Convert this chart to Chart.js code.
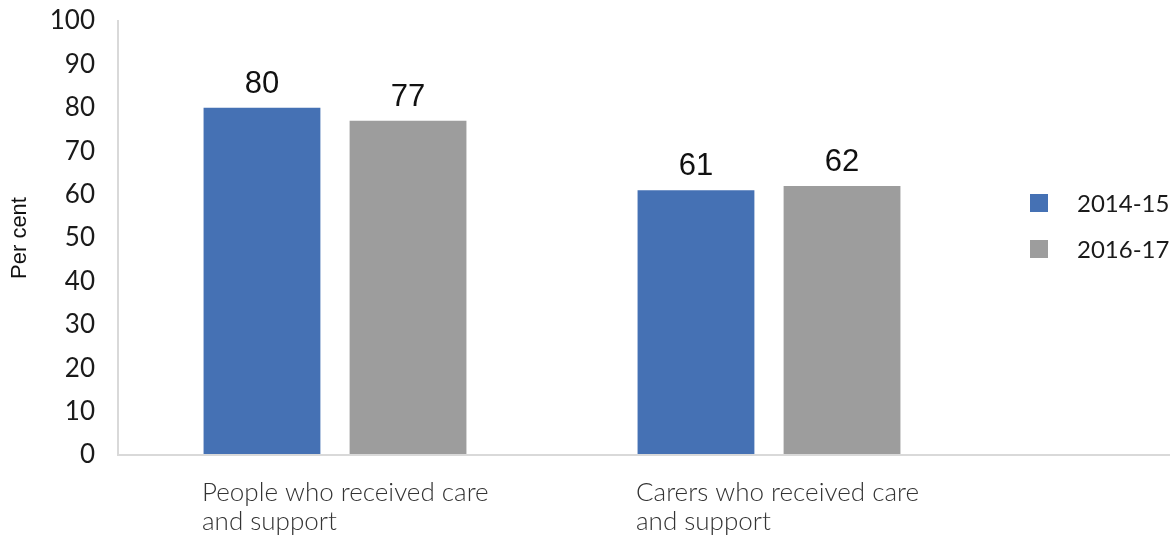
<!DOCTYPE html>
<html>
<head>
<meta charset="utf-8">
<script src="https://cdn.jsdelivr.net/npm/chart.js@4/dist/chart.umd.min.js"></script>
<style>
  html, body { margin: 0; padding: 0; background: #ffffff; }
  #wrap { width: 1170px; height: 539px; }
</style>
</head>
<body>
<div id="wrap"><canvas id="chart" width="1170" height="539"></canvas></div>
<script>
// Survey results: share who received care and support, by period
const categories = [
  ["People who received care", "and support"],
  ["Carers who received care", "and support"]
];
const seriesNames = ["2014-15", "2016-17"];
const values2014 = [80, 61];
const values2016 = [77, 62];
const seriesColors = ["#4571b4", "#9d9d9d"];
const yMin = 0;
const yMax = 100;
const yStep = 10;
const yTitle = "Per cent";

// value labels above each bar, placed from the bar elements themselves
const valueLabels = {
  id: 'valueLabels',
  afterDatasetsDraw(chart) {
    const ctx = chart.ctx;
    ctx.save();
    ctx.font = '31px "Liberation Sans", Arial, sans-serif';
    ctx.fillStyle = '#111111';
    ctx.textAlign = 'center';
    ctx.textBaseline = 'alphabetic';
    chart.data.datasets.forEach((ds, di) => {
      chart.getDatasetMeta(di).data.forEach((bar, i) => {
        ctx.fillText(String(ds.data[i]), bar.x, bar.y - 15);
      });
    });
    ctx.restore();
  }
};

// extend the category baseline to the right edge and draw the legend
const sideLegend = {
  id: 'sideLegend',
  afterDraw(chart) {
    const ctx = chart.ctx;
    const xs = chart.scales.x;
    ctx.save();
    ctx.strokeStyle = '#d9d9d9';
    ctx.lineWidth = 2;
    ctx.beginPath();
    ctx.moveTo(chart.chartArea.left, xs.top);
    ctx.lineTo(chart.width, xs.top);
    ctx.stroke();

    ctx.font = '24px Lato, "Open Sans", sans-serif';
    ctx.textAlign = 'left';
    ctx.textBaseline = 'middle';
    const boxX = 1030, textX = 1077, firstY = 203, rowGap = 46, box = 18;
    chart.data.datasets.forEach((ds, i) => {
      const cy = firstY + i * rowGap;
      ctx.fillStyle = ds.backgroundColor;
      ctx.fillRect(boxX, cy - box / 2, box, box);
      ctx.fillStyle = '#1a1a1a';
      ctx.fillText(ds.label, textX, cy + 1);
    });
    ctx.restore();
  }
};

new Chart(document.getElementById('chart'), {
  type: 'bar',
  data: {
    labels: categories,
    datasets: [
      { label: seriesNames[0], data: values2014, backgroundColor: seriesColors[0] },
      { label: seriesNames[1], data: values2016, backgroundColor: seriesColors[1] }
    ]
  },
  options: {
    responsive: false,
    devicePixelRatio: 1,
    animation: false,
    categoryPercentage: 0.673,
    barPercentage: 0.8,
    layout: { padding: { top: 21, right: 184, left: 0, bottom: 0 } },
    plugins: {
      legend: { display: false },
      tooltip: { enabled: false }
    },
    scales: {
      x: {
        grid: { display: false, drawTicks: false },
        border: { display: false },
        ticks: {
          align: 'start',
          labelOffset: -133,
          padding: 24,
          color: '#333333',
          font: { family: 'Lato', weight: '300', size: 26, lineHeight: 1.08 }
        },
        afterFit(scale) { scale.height = 84; }
      },
      y: {
        min: yMin,
        max: yMax,
        grid: { display: false, drawTicks: false },
        border: { display: true, color: '#d9d9d9', width: 2 },
        ticks: {
          stepSize: yStep,
          padding: 23,
          color: '#1a1a1a',
          font: { family: 'Lato', size: 26 }
        },
        title: {
          display: true,
          text: yTitle,
          color: '#111111',
          padding: { top: 7, bottom: 0 },
          font: { family: '"Liberation Sans", Arial, sans-serif', size: 22 }
        },
        afterFit(scale) {
          scale.width = 118;
          scale.paddingTop = 0;
          scale.paddingBottom = 0;
        }
      }
    }
  },
  plugins: [valueLabels, sideLegend]
});
</script>
</body>
</html>
